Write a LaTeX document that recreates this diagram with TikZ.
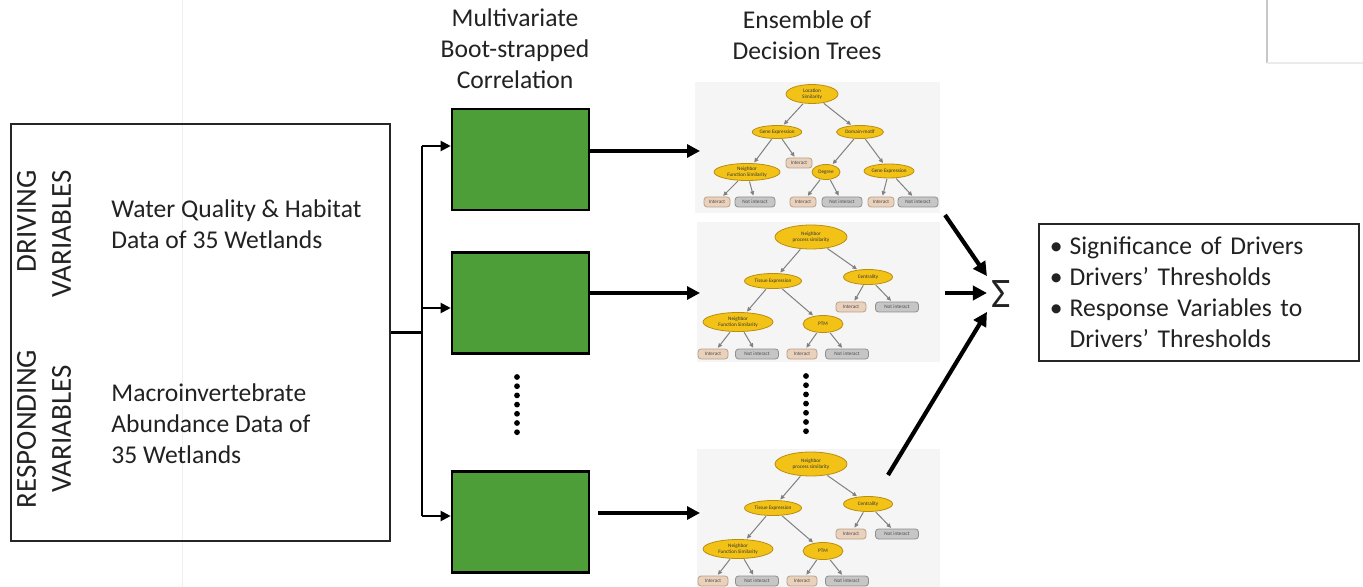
\documentclass[tikz,border=0pt]{standalone}
\usepackage{fontspec}
\setmainfont{Carlito}
\usetikzlibrary{arrows.meta,shapes.geometric}
\definecolor{boxgreen}{HTML}{4D9E38}
\definecolor{goldfill}{HTML}{F3C217}
\definecolor{golddark}{HTML}{B98E10}
\definecolor{intfill}{HTML}{E9D1BC}
\definecolor{intdark}{HTML}{B9A08A}
\definecolor{notfill}{HTML}{C6C6C6}
\definecolor{notdark}{HTML}{8E8E8E}
\definecolor{treebg}{HTML}{F5F5F5}
\definecolor{txt}{HTML}{222222}
\newcommand{\treefont}{\fontsize{2.6}{3.0}\selectfont}
\tikzset{
  lbl/.style={font=\fontsize{12.8}{15.5}\selectfont, text=txt, inner sep=0pt},
  vlbl/.style={font=\fontsize{14.5}{17.5}\selectfont, text=txt, inner sep=0pt, rotate=90},
  greenbox/.style={draw=black, line width=1.3pt, fill=boxgreen, minimum width=68.5pt, minimum height=50.5pt, inner sep=0pt},
  ell/.style={ellipse, draw=golddark, fill=goldfill, line width=0.4pt, inner sep=0pt, align=center, font=\treefont, text=black!80},
  intbox/.style={rectangle, rounded corners=1.5pt, draw=intdark, fill=intfill, line width=0.4pt, minimum width=13pt, minimum height=5pt, inner sep=0pt, font=\treefont, text=black!70},
  notbox/.style={rectangle, rounded corners=1.5pt, draw=notdark, fill=notfill, line width=0.4pt, minimum width=20pt, minimum height=5pt, inner sep=0pt, font=\treefont, text=black!70},
  tedge/.style={draw=black!50, line width=0.5pt, -{Triangle[length=2.2pt,width=2pt]}, shorten >=0.5pt, shorten <=0.3pt},
  brarrow/.style={draw=black, line width=1pt, -{Triangle[length=5pt,width=5pt]}},
  mainarrow/.style={draw=black, line width=1.6pt, -{Triangle[length=6.5pt,width=6.5pt]}},
  sigarrow/.style={draw=black, line width=2.1pt, -{Triangle[length=7pt,width=7pt]}},
}
\newcommand{\treeB}[2]{%
\begin{scope}[shift={(0,#2)}]
  \fill[treebg] (697,222) rectangle (940,362);
  \node[ell, minimum width=36pt, minimum height=12pt] (#1a) at (811,237) {Neighbor\\process similarity};
  \node[ell, minimum width=28.5pt, minimum height=7.5pt] (#1b) at (773,281) {Tissue Expression};
  \node[ell, minimum width=24.5pt, minimum height=7.5pt] (#1c) at (868,277) {Centrality};
  \node[intbox, minimum width=15pt] (#1d) at (851,307) {Interact};
  \node[notbox, minimum width=21.5pt] (#1e) at (897,307) {Not interact};
  \node[ell, minimum width=35pt, minimum height=9.5pt] (#1f) at (738,322) {Neighbor\\Function Similarity};
  \node[ell, minimum width=20pt, minimum height=8.5pt] (#1g) at (823,324) {PTM};
  \node[intbox, minimum width=15pt] (#1h) at (713,354) {Interact};
  \node[notbox, minimum width=21.5pt] (#1i) at (757,354) {Not interact};
  \node[intbox, minimum width=15pt] (#1j) at (802,354) {Interact};
  \node[notbox, minimum width=21.5pt] (#1k) at (847,354) {Not interact};
  \draw[tedge] (#1a) -- (#1b);
  \draw[tedge] (#1a) -- (#1c);
  \draw[tedge] (#1c) -- (#1d);
  \draw[tedge] (#1c) -- (#1e);
  \draw[tedge] (#1b) -- (#1f);
  \draw[tedge] (#1b) -- (#1g);
  \draw[tedge] (#1f) -- (#1h);
  \draw[tedge] (#1f) -- (#1i);
  \draw[tedge] (#1g) -- (#1j);
  \draw[tedge] (#1g) -- (#1k);
\end{scope}}
\begin{document}
\begin{tikzpicture}[x=0.5pt,y=-0.5pt]
  \useasboundingbox (0,0) rectangle (1363,587);
  \fill[white] (0,0) rectangle (1363,587);
  % faint artefact lines
  \draw[black!6, line width=0.5pt] (182,0) -- (182,587);
  \draw[black!22, line width=0.6pt] (1267,0) -- (1267,63);
  \draw[black!8, line width=0.6pt] (1267,63) -- (1363,63);

  % left box
  \node[draw=black!85, line width=0.8pt, minimum width=189.5pt, minimum height=208.5pt, inner sep=0pt] (left) at (200.5,332.5) {};
  \node[vlbl, anchor=east, align=right] (drv) at (44,170) {DRIVING\\VARIABLES};
  \node[vlbl, align=center] (rsp) at (44,429) {RESPONDING\\VARIABLES};
  \node[lbl, anchor=west, align=left] (wq) at (111,224) {Water Quality \& Habitat\\Data of 35 Wetlands};
  \node[lbl, anchor=west, align=left] (mi) at (111,424) {Macroinvertebrate\\Abundance Data of\\35 Wetlands};

  % headers
  \node[lbl, align=center] (h1) at (515,49) {Multivariate\\Boot-strapped\\Correlation};
  \node[lbl, align=center] (h2) at (807,35) {Ensemble of\\Decision Trees};

  % green boxes
  \node[greenbox] (g1) at (520.5,159.5) {};
  \node[greenbox] (g2) at (520.5,303) {};
  \node[greenbox] (g3) at (520.5,522) {};

  % branching connectors
  \coordinate (jn) at (422,332.5);
  \coordinate (jt) at (422,146);
  \coordinate (j2) at (422,308);
  \coordinate (jb) at (422,516);
  \draw[line width=1.2pt] (left.east) -- (jn);
  \draw[line width=1pt] (jt) -- (jb);
  \draw[brarrow] (jt) -- (jt -| g1.west);
  \draw[brarrow] (j2) -- (j2 -| g2.west);
  \draw[brarrow] (jb) -- (jb -| g3.west);

  % dots
  \foreach \i in {0,...,6} {
    \fill (517,377+\i*9.2) circle[radius=1.45pt];
    \fill (806,376+\i*9.2) circle[radius=1.45pt];
  }

  % tree 1
  \fill[treebg] (695,82) rectangle (940,213);
  \node[ell, minimum width=26pt, minimum height=9.5pt] (t1a) at (812,94) {Location\\Similarity};
  \node[ell, minimum width=24pt, minimum height=6.5pt] (t1b) at (777,132) {Gene Expression};
  \node[ell, minimum width=23.5pt, minimum height=6.5pt] (t1c) at (860,132) {Domain-motif};
  \node[intbox] (t1d) at (799,163) {Interact};
  \node[ell, minimum width=33pt, minimum height=8.5pt] (t1e) at (747,172) {Neighbor\\Function Similarity};
  \node[ell, minimum width=14pt, minimum height=7.5pt] (t1f) at (826,172) {Degree};
  \node[ell, minimum width=25pt, minimum height=7pt] (t1g) at (889,171) {Gene Expression};
  \node[intbox] (t1h) at (717,202) {Interact};
  \node[notbox] (t1i) at (755,202) {Not interact};
  \node[intbox] (t1j) at (803,202) {Interact};
  \node[notbox] (t1k) at (842,202) {Not interact};
  \node[intbox] (t1l) at (881,202) {Interact};
  \node[notbox] (t1m) at (918,202) {Not interact};
  \draw[tedge] (t1a) -- (t1b);
  \draw[tedge] (t1a) -- (t1c);
  \draw[tedge] (t1b) -- (t1e);
  \draw[tedge] (t1b) -- (t1d);
  \draw[tedge] (t1c) -- (t1f);
  \draw[tedge] (t1c) -- (t1g);
  \draw[tedge] (t1e) -- (t1h);
  \draw[tedge] (t1e) -- (t1i);
  \draw[tedge] (t1f) -- (t1j);
  \draw[tedge] (t1f) -- (t1k);
  \draw[tedge] (t1g) -- (t1l);
  \draw[tedge] (t1g) -- (t1m);

  % trees 2 and 3
  \treeB{t2}{0}
  \treeB{t3}{227}

  % arrows to trees
  \coordinate (t1in) at (700,151);
  \coordinate (t2in) at (700,293);
  \coordinate (t3in) at (700,513);
  \draw[mainarrow] (g1.east |- t1in) -- (t1in);
  \draw[mainarrow] (g2.east |- t2in) -- (t2in);
  \draw[mainarrow] ([xshift=4pt]g3.east |- t3in) -- (t3in);

  % sigma
  \node[font=\fontsize{21}{21}\selectfont, text=txt, inner sep=2pt] (sig) at (1001,294) {Σ};
  \coordinate (s1) at (945,215);
  \coordinate (s2) at (945,293);
  \coordinate (s3) at (888,475);
  \draw[sigarrow] (s1) -- (sig.north west);
  \draw[sigarrow] (s2) -- (s2 -| sig.west);
  \draw[sigarrow] (s3) -- (sig.south west);

  % result box
  \node[draw=black!85, line width=0.8pt, anchor=north west, minimum width=160pt, minimum height=68.5pt, text width=149pt, inner xsep=5.5pt, inner ysep=0pt, align=left, font=\fontsize{12.8}{15.5}\selectfont, text=txt] (res) at (1038,223)
    {\textbullet\hspace{3.5pt}Significance of Drivers\\
     \textbullet\hspace{3.5pt}Drivers’ Thresholds\\
     \textbullet\hspace{3.5pt}Response Variables to\\
     \phantom{\textbullet}\hspace{3.5pt}Drivers’ Thresholds};
\end{tikzpicture}
\end{document}
